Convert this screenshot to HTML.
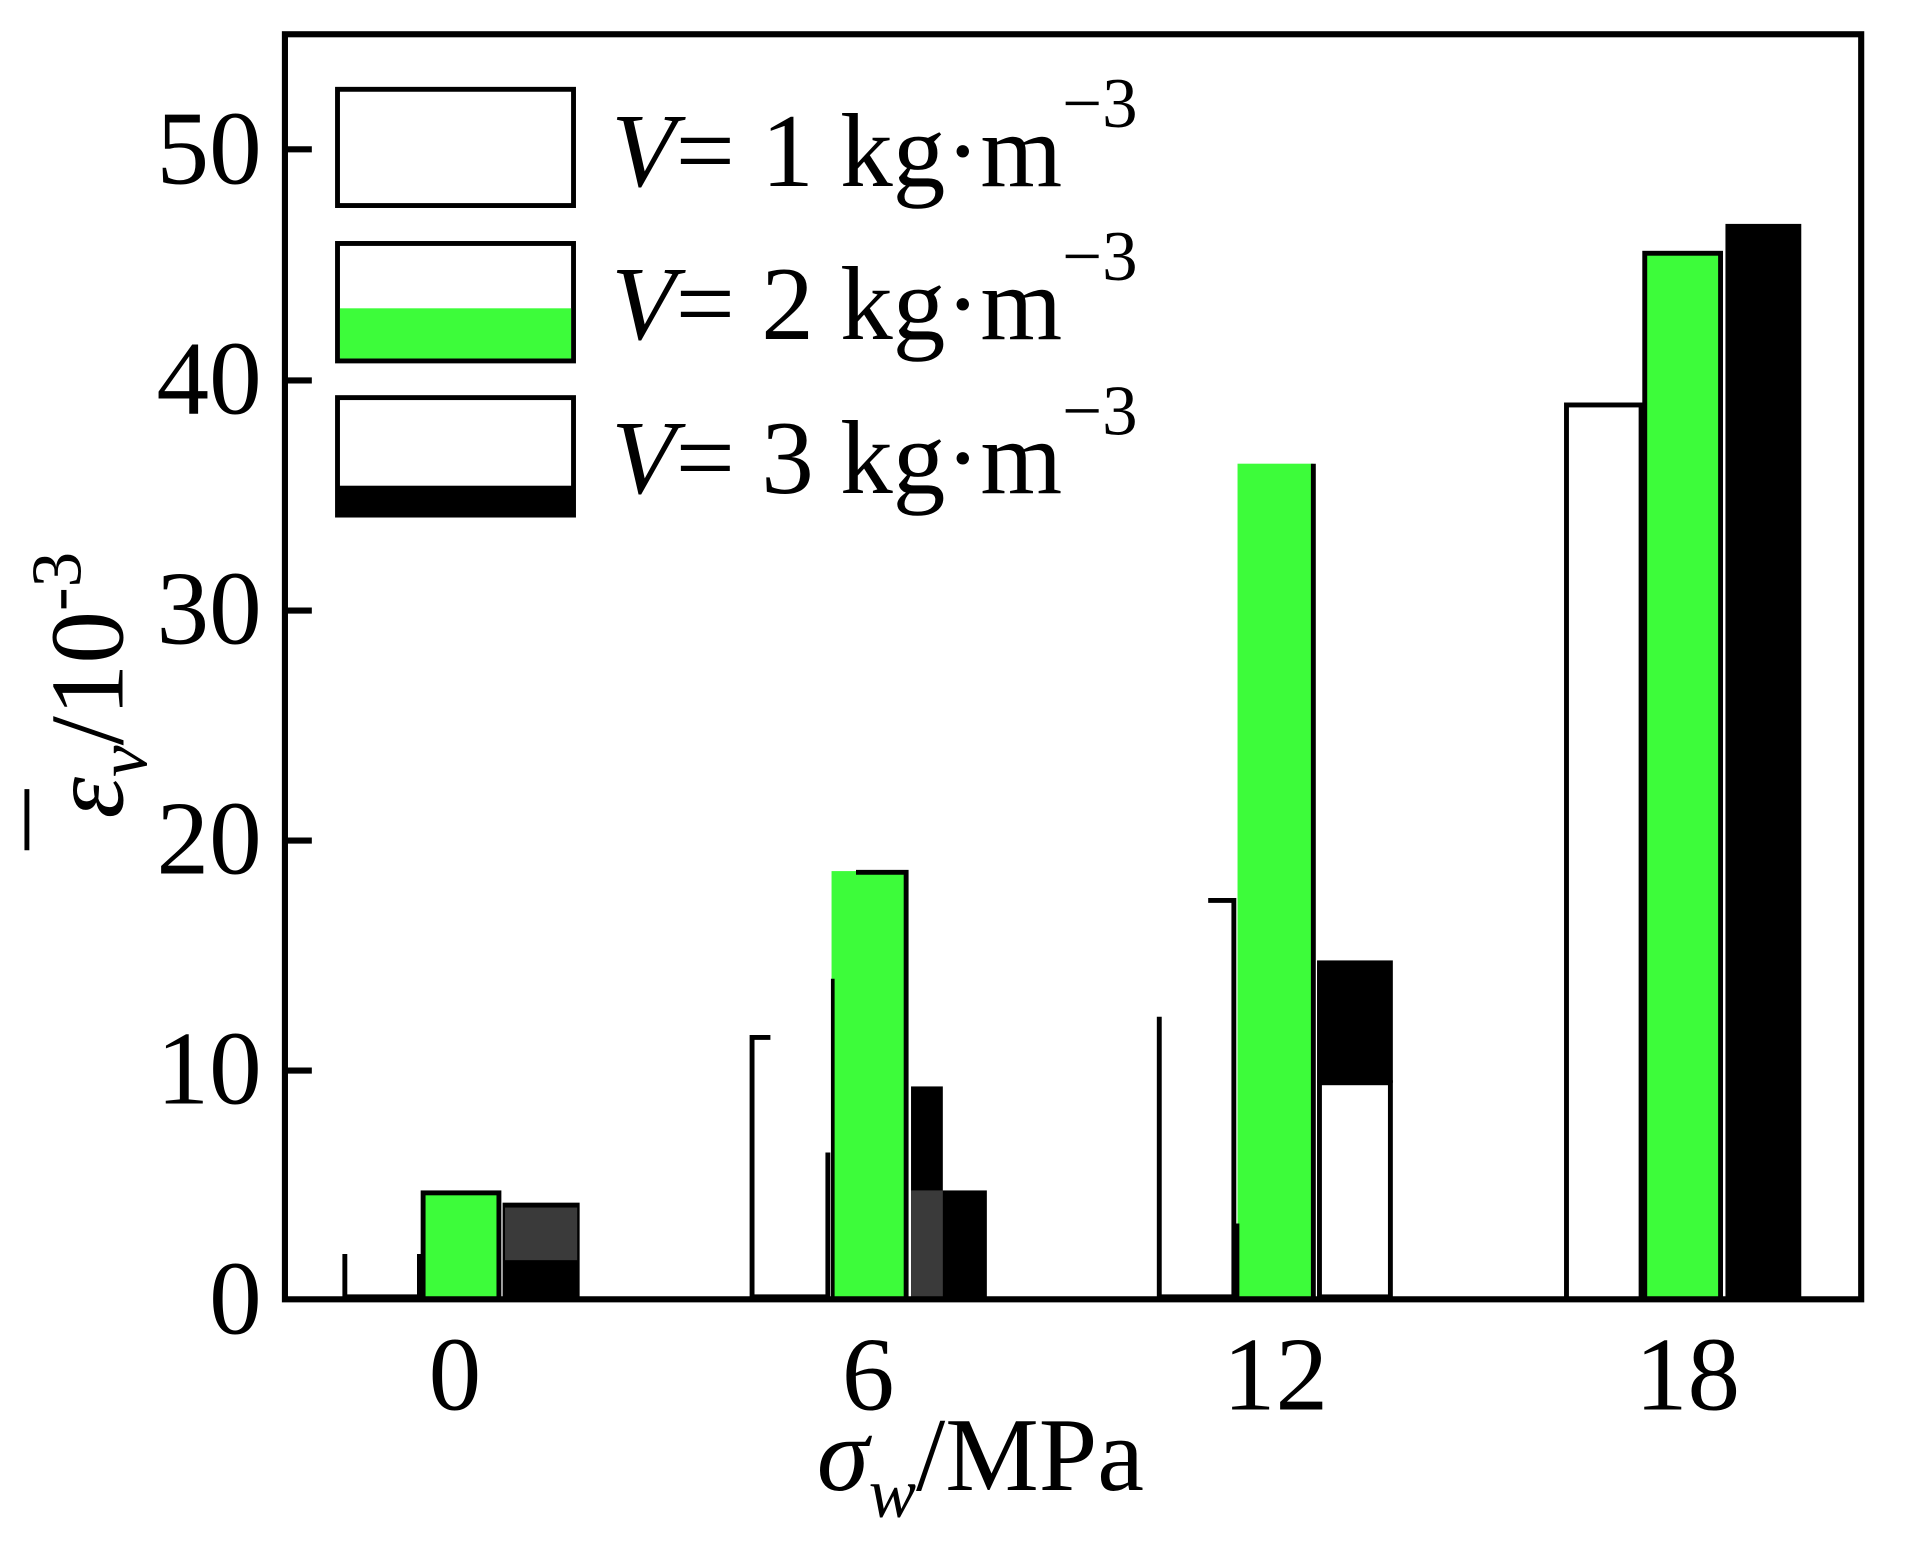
<!DOCTYPE html>
<html><head><meta charset="utf-8"><style>
html,body{margin:0;padding:0;background:#fff;}
svg{display:block;}
text{font-family:"Liberation Serif",serif;fill:#000;}
</style></head><body>
<svg width="1915" height="1544" viewBox="0 0 1566 1262" preserveAspectRatio="none" xmlns="http://www.w3.org/2000/svg">
<rect x="0" y="0" width="1566" height="1262" fill="#fff"/>
<g stroke="#000" stroke-width="4" fill="none">
<line x1="282" y1="1025" x2="282" y2="1062"/>
<line x1="343" y1="1025" x2="343" y2="1062"/>
<line x1="282" y1="1060" x2="343" y2="1060"/>
</g>
<rect x="346" y="975" width="62" height="87" fill="#3dfc3a" stroke="#000" stroke-width="4"/>
<rect x="411" y="983" width="63" height="79" fill="#000"/>
<rect x="413" y="987" width="59" height="43" fill="#3a3a3a"/>
<g stroke="#000" stroke-width="4" fill="none">
<polyline points="630,848 615,848 615,1062"/>
<line x1="615" y1="1060" x2="678" y2="1060"/>
<line x1="677" y1="942" x2="677" y2="1062"/>
</g>
<rect x="680" y="712" width="61" height="350" fill="#3dfc3a"/>
<line x1="681" y1="800" x2="681" y2="1062" stroke="#000" stroke-width="3"/>
<polyline points="700,713 741,713 741,1062" stroke="#000" stroke-width="4" fill="none"/>
<rect x="745" y="888" width="26" height="174" fill="#000"/>
<rect x="745" y="973" width="62" height="89" fill="#000"/>
<rect x="745" y="973" width="26" height="89" fill="#3a3a3a"/>
<g stroke="#000" stroke-width="4" fill="none">
<line x1="948" y1="831" x2="948" y2="1062"/>
<polyline points="988,736 1009,736 1009,1062"/>
<line x1="948" y1="1060" x2="1009" y2="1060"/>
</g>
<rect x="1012" y="379" width="62" height="683" fill="#3dfc3a"/>
<line x1="1074" y1="379" x2="1074" y2="1062" stroke="#000" stroke-width="4"/>
<line x1="1012" y1="1062" x2="1012" y2="1000" stroke="#000" stroke-width="3"/>
<rect x="1077" y="785" width="62" height="100" fill="#000"/>
<rect x="1079" y="885" width="58" height="175" fill="#fff" stroke="#000" stroke-width="4"/>
<rect x="1281" y="331" width="61" height="731" fill="#fff" stroke="#000" stroke-width="4"/>
<rect x="1345" y="207" width="62" height="855" fill="#3dfc3a" stroke="#000" stroke-width="4"/>
<rect x="1411" y="183" width="62" height="879" fill="#000"/>
<rect x="233" y="28" width="1289" height="1034" fill="none" stroke="#000" stroke-width="5"/>
<g stroke="#000" stroke-width="5">
<line x1="233" y1="875" x2="255" y2="875"/>
<line x1="233" y1="687" x2="255" y2="687"/>
<line x1="233" y1="499" x2="255" y2="499"/>
<line x1="233" y1="311" x2="255" y2="311"/>
<line x1="233" y1="122" x2="255" y2="122"/>
</g>
<g font-size="86" text-anchor="end">
<text x="214" y="1090">0</text>
<text x="214" y="902">10</text>
<text x="214" y="714">20</text>
<text x="214" y="526">30</text>
<text x="214" y="338">40</text>
<text x="214" y="150">50</text>
</g>
<g font-size="86" text-anchor="middle">
<text x="372" y="1152">0</text>
<text x="710" y="1152">6</text>
<text x="1043" y="1152">12</text>
<text x="1380" y="1152">18</text>
</g>
<text x="668" y="1218" font-size="86"><tspan font-style="italic">σ</tspan><tspan font-style="italic" font-size="58" dy="22">w</tspan><tspan dy="-22">/MPa</tspan></text>
<g transform="translate(100,560) rotate(-90)">
<text x="0" y="0" font-size="86" text-anchor="middle"><tspan font-style="italic">ε</tspan><tspan font-style="italic" font-size="58" dy="20">v</tspan><tspan dy="-20">/10</tspan><tspan font-size="58" dy="-34">-3</tspan></text>
<line x1="-135" y1="-78" x2="-85" y2="-78" stroke="#000" stroke-width="4"/>
</g>
<rect x="276" y="73" width="193" height="95" fill="#fff" stroke="#000" stroke-width="4"/>
<rect x="276" y="199" width="193" height="96" fill="#fff" stroke="#000" stroke-width="4"/>
<rect x="278" y="252" width="189" height="41" fill="#3dfc3a"/>
<rect x="276" y="325" width="193" height="96" fill="#fff" stroke="#000" stroke-width="4"/>
<rect x="276" y="397" width="193" height="24" fill="#000"/>
<g font-size="86">
<text x="500" y="152"><tspan font-style="italic">V</tspan>= 1 kg·m<tspan font-size="58" dy="-48">−3</tspan></text>
<text x="500" y="277"><tspan font-style="italic">V</tspan>= 2 kg·m<tspan font-size="58" dy="-48">−3</tspan></text>
<text x="500" y="403"><tspan font-style="italic">V</tspan>= 3 kg·m<tspan font-size="58" dy="-48">−3</tspan></text>
</g>
</svg>
</body></html>
